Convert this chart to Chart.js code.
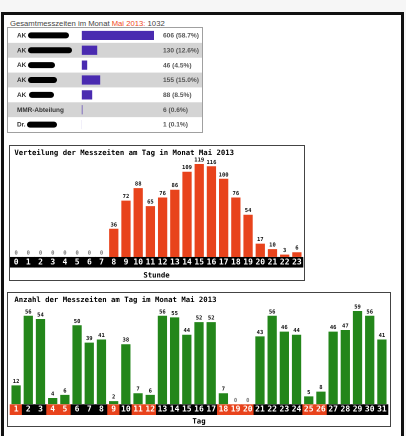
<!DOCTYPE html>
<html><head><meta charset="utf-8">
<script src="https://cdn.jsdelivr.net/npm/chart.js@4"></script>
<style>
html,body{margin:0;padding:0;width:406px;height:436px;overflow:hidden;background:#f6f6f6;font-family:"Liberation Sans",Arial,sans-serif;}
#frame{position:absolute;left:1px;top:12px;width:397px;height:440px;border:3px solid #111;background:#fff;}
#hdr{position:absolute;left:10px;top:19px;font-size:7.7px;line-height:10px;color:#444;white-space:nowrap;}
#hdr .m{color:#f04a1c;}
#tbl{position:absolute;left:7px;top:27px;width:194px;height:104px;border:1px solid #a0a0a0;background:#fff;}
.box{position:absolute;border:1px solid #444;background:#fff;}
#box1{left:9px;top:145px;width:294px;height:134px;}
#box2{left:7px;top:292px;width:382px;height:133px;}
canvas{display:block;}
</style></head>
<body>
<div id="frame"></div>
<div id="hdr">Gesamtmesszeiten im Monat <span class="m">Mai 2013:</span> 1032</div>
<div id="tbl"><canvas id="c0" width="194" height="104"></canvas></div>
<div class="box" id="box1"><canvas id="c1" width="294" height="134"></canvas></div>
<div class="box" id="box2"><canvas id="c2" width="382" height="133"></canvas></div>
<script>
// ---- data ----
const groups = ['AK', 'AK', 'AK', 'AK', 'AK', 'MMR-Abteilung', 'Dr.'];
const groupCounts = [606, 130, 46, 155, 88, 6, 1];
const totalCount = 1032;

const hours = ['0','1','2','3','4','5','6','7','8','9','10','11','12','13','14','15','16','17','18','19','20','21','22','23'];
const hourCounts = [0,0,0,0,0,0,0,0,36,72,88,65,76,86,109,119,116,100,76,54,17,10,3,6];

const days = ['1','2','3','4','5','6','7','8','9','10','11','12','13','14','15','16','17','18','19','20','21','22','23','24','25','26','27','28','29','30','31'];
const dayCounts = [12,56,54,4,6,50,39,41,2,38,7,6,56,55,44,52,52,7,0,0,43,56,46,44,5,8,46,47,59,56,41];
const highlightDays = ['1','4','5','9','11','12','18','19','20','25','26'];

// redaction blobs (style only): [start x, end x] in table canvas px, null = none
const redactions = [[20,61],[20,64],[20,47],[20,49],[21,46],null,[19,49]];

const MONO = "'DejaVu Sans Mono', 'Liberation Mono', monospace";
Chart.defaults.font.family = MONO;
Chart.defaults.color = '#000';

// ---- plugins ----
const bandPlugin = {
  id: 'band',
  beforeDraw(chart, args, opts) {
    const x = chart.scales.x;
    const ctx = chart.ctx;
    const n = x.getLabels().length;
    const w = (x.right - x.left) / n;
    ctx.save();
    x.getLabels().forEach((lab, i) => {
      const cx = x.getPixelForValue(i);
      ctx.fillStyle = (opts.highlight || []).includes(lab) ? opts.hiColor : '#000';
      ctx.fillRect(cx - w / 2 - 0.3, x.top, w + 0.6, opts.height);
    });
    ctx.restore();
  }
};
const valuePlugin = {
  id: 'vals',
  afterDatasetsDraw(chart) {
    const ctx = chart.ctx;
    const ds = chart.data.datasets[0];
    const meta = chart.getDatasetMeta(0);
    ctx.save();
    ctx.font = "bold 5.5px " + MONO;
    ctx.textAlign = 'center';
    ctx.textBaseline = 'bottom';
    meta.data.forEach((bar, i) => {
      const v = ds.data[i];
      ctx.fillStyle = v === 0 ? '#777' : '#111';
      ctx.fillText(String(v), bar.x, bar.y - 1.2);
    });
    ctx.restore();
  }
};
const tablePlugin = {
  id: 'tbl',
  beforeDraw(chart) {
    const ctx = chart.ctx;
    const y = chart.scales.y;
    const W = chart.width;
    const n = groups.length;
    const rh = (y.bottom - y.top) / n;
    ctx.save();
    for (let i = 0; i < n; i++) {
      const cy = y.getPixelForValue(i);
      if (i % 2 === 1) { ctx.fillStyle = '#d4d4d4'; ctx.fillRect(0, cy - rh / 2, W, rh); }
      ctx.fillStyle = '#333';
      ctx.font = "bold 6.4px 'Liberation Sans', Arial, sans-serif";
      ctx.textBaseline = 'middle';
      ctx.textAlign = 'left';
      ctx.fillText(groups[i], 9, cy + 0.3);
      const r = redactions[i];
      if (r) {
        ctx.fillStyle = '#000';
        ctx.beginPath();
        ctx.roundRect(r[0], cy - 3, r[1] - r[0], 6, 3);
        ctx.fill();
      }
    }
    ctx.restore();
  },
  afterDatasetsDraw(chart) {
    const ctx = chart.ctx;
    const y = chart.scales.y;
    ctx.save();
    ctx.fillStyle = '#555';
    ctx.font = "bold 6.6px 'Liberation Sans', Arial, sans-serif";
    ctx.textBaseline = 'middle';
    groupCounts.forEach((v, i) => {
      const pct = (v / totalCount * 100).toFixed(1);
      ctx.fillText(v + ' (' + pct + '%)', 155, y.getPixelForValue(i) + 0.3);
    });
    ctx.restore();
  }
};

// ---- table bars ----
new Chart(document.getElementById('c0'), {
  type: 'bar',
  data: { labels: groups.map((g, i) => g + i), datasets: [{ data: groupCounts, backgroundColor: '#4a2bb0', barPercentage: 0.62, categoryPercentage: 1 }] },
  options: {
    indexAxis: 'y', responsive: false, animation: false, devicePixelRatio: 2,
    layout: { padding: { left: 73.7, right: 48, top: 0, bottom: 0 } },
    plugins: { legend: { display: false }, tooltip: { enabled: false } },
    scales: { x: { display: false, min: 0, max: 606 }, y: { display: false } }
  },
  plugins: [tablePlugin]
});

function barChart(id, labels, values, color, title, xTitle, cfg) {
  return new Chart(document.getElementById(id), {
    type: 'bar',
    data: { labels: labels, datasets: [{ data: values, backgroundColor: color, barPercentage: 0.76, categoryPercentage: 1 }] },
    options: {
      responsive: false, animation: false, devicePixelRatio: 2,
      layout: { padding: cfg.padding },
      plugins: {
        legend: { display: false }, tooltip: { enabled: false },
        title: { display: true, text: title, align: 'start', color: '#000',
                 font: { size: 7.3, weight: 'bold', family: MONO }, padding: cfg.titlePad },
        band: { height: cfg.bandH, highlight: cfg.highlight, hiColor: '#e8431c' }
      },
      scales: {
        x: {
          grid: { display: false, drawTicks: false }, border: { display: false },
          ticks: { color: '#fff', font: { size: 8, weight: 'bold', family: MONO }, padding: 0.5, autoSkip: false, maxRotation: 0 },
          title: { display: true, text: xTitle, color: '#000', font: { size: 7.3, weight: 'bold', family: MONO }, padding: { top: cfg.xTitleTop, bottom: 0 } }
        },
        y: { display: false, min: 0, max: cfg.yMax }
      }
    },
    plugins: [bandPlugin, valuePlugin]
  });
}

barChart('c1', hours, hourCounts, '#e8431c', ' Verteilung der Messzeiten am Tag in Monat Mai 2013', 'Stunde',
  { padding: { left: 0, right: 1, top: 0, bottom: 0 }, titlePad: { top: 2.9, bottom: 1.3 }, xTitleTop: 3.7, yMax: 125.4, bandH: 10.6, highlight: [] });

barChart('c2', days, dayCounts, '#23861a', ' Anzahl der Messzeiten am Tag im Monat Mai 2013', 'Tag',
  { padding: { left: 2, right: 2, top: 0, bottom: 0 }, titlePad: { top: 2.6, bottom: 1.64 }, xTitleTop: 2.34, yMax: 62.2, bandH: 10.7, highlight: highlightDays });
</script>
</body></html>
